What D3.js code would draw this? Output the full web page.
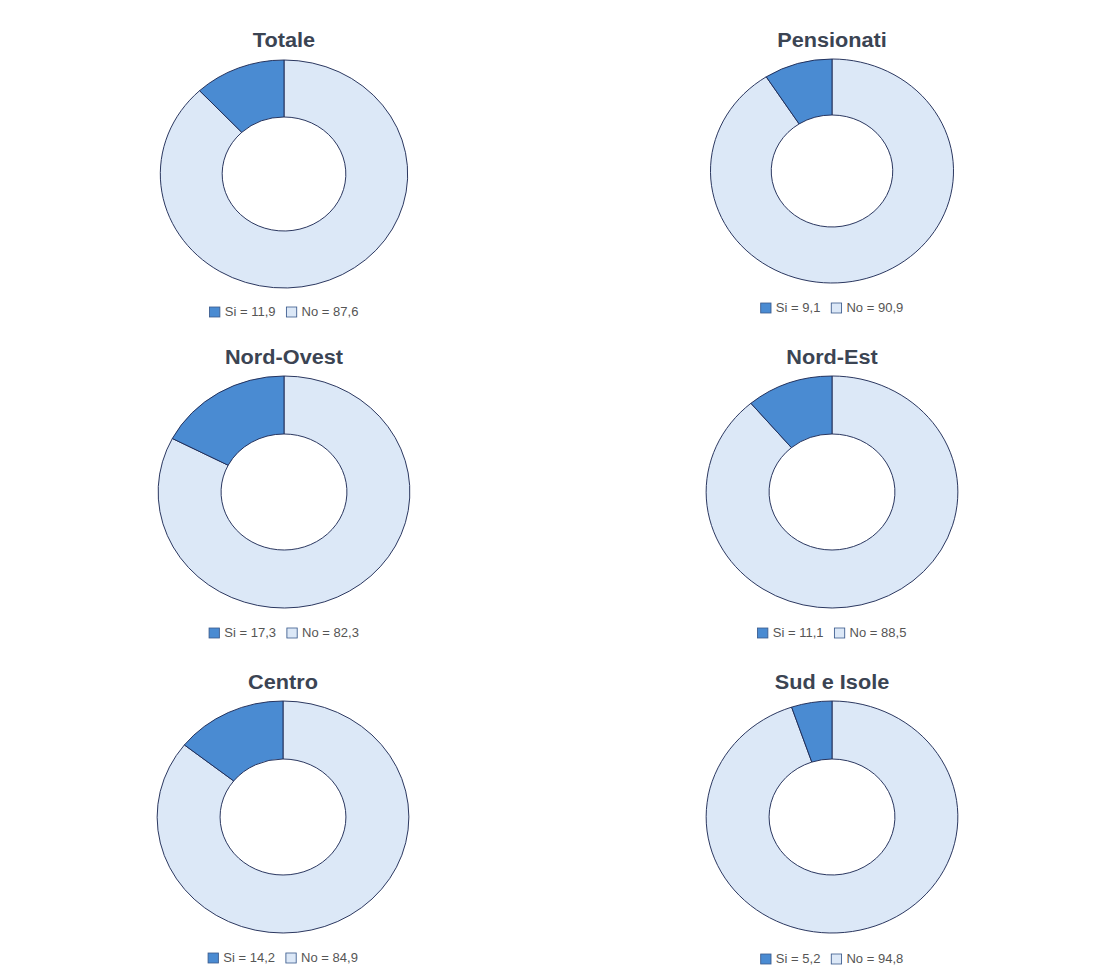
<!DOCTYPE html>
<html>
<head>
<meta charset="utf-8">
<script src="https://cdnjs.cloudflare.com/ajax/libs/d3/7.8.5/d3.min.js"></script>
<style>
  body { margin: 0; background: #fff; }
  svg { display: block; }
</style>
</head>
<body>
<div id="chart"></div>
<script>
// data
var regions = ["Totale", "Pensionati", "Nord-Ovest", "Nord-Est", "Centro", "Sud e Isole"];
var siValues = [11.9, 9.1, 17.3, 11.1, 14.2, 5.2];
var noValues = [87.6, 90.9, 82.3, 88.5, 84.9, 94.8];
var seriesLabels = ["Si", "No"];

// layout of each panel (page coords)
var panelX = [284, 832, 284, 832, 283, 832];
var panelY = [174, 171, 492, 492, 817, 817];
var panelR = [114, 112, 116, 116, 116, 116];
var titleY = [40, 40, 357, 357, 682, 682];
var legendY = [312, 308, 633, 633, 958, 959];

var width = 1095, height = 979;
var stretch = 1.085; // the original figure is a bit wider than tall

var colSi = "#4a8bd2", colNo = "#dce8f7", edge = "#1e2b55";

var svg = d3.select("#chart").append("svg")
    .attr("width", width)
    .attr("height", height);

var pie = d3.pie()
    .sort(null)
    .value(function (d) { return d.value; });

var fmt = function (v) { return String(v).replace(".", ","); };

regions.forEach(function (name, i) {
    var slices = [
        { key: "No", value: noValues[i], color: colNo },
        { key: "Si", value: siValues[i], color: colSi }
    ];

    var arc = d3.arc()
        .innerRadius(panelR[i] * 0.5)
        .outerRadius(panelR[i]);

    // donut, stretched horizontally
    var g = svg.append("g")
        .attr("transform", "translate(" + panelX[i] + "," + panelY[i] + ") scale(" + stretch + ",1)");

    g.selectAll("path")
        .data(pie(slices))
        .enter()
        .append("path")
        .attr("d", arc)
        .attr("fill", function (d) { return d.data.color; })
        .attr("stroke", edge)
        .attr("stroke-width", 0.9);

    // title
    svg.append("g")
        .attr("transform", "translate(" + panelX[i] + "," + titleY[i] + ") scale(" + stretch + ",1)")
        .append("text")
        .attr("text-anchor", "middle")
        .attr("dy", "0.36em")
        .style("font-family", "'Liberation Sans', Arial, sans-serif")
        .style("font-weight", "bold")
        .style("font-size", "20px")
        .style("fill", "#3b4453")
        .text(name);

    // legend
    var lg = svg.append("g")
        .attr("transform", "translate(" + panelX[i] + "," + legendY[i] + ") scale(" + stretch + ",1)");

    var items = lg.selectAll(".item")
        .data([
            { label: seriesLabels[0] + " = " + fmt(siValues[i]), color: colSi },
            { label: seriesLabels[1] + " = " + fmt(noValues[i]), color: colNo }
        ])
        .enter()
        .append("g")
        .attr("class", "item");

    items.append("rect")
        .attr("width", 9.5)
        .attr("height", 10)
        .attr("y", -5)
        .attr("fill", function (d) { return d.color; })
        .attr("stroke", "#3a5a8c")
        .attr("stroke-width", 0.8);

    items.append("text")
        .attr("x", 14)
        .attr("dy", "0.35em")
        .style("font-family", "'Liberation Sans', Arial, sans-serif")
        .style("font-size", "12px")
        .style("fill", "#555")
        .text(function (d) { return d.label; });

    // place items side by side and centre the row
    var xPos = 0;
    items.each(function () {
        var node = d3.select(this);
        node.attr("transform", "translate(" + xPos + ",0)");
        xPos += this.getBBox().width + 10;
    });
    var total = xPos - 10;
    items.attr("transform", function () {
        var t = d3.select(this).attr("transform");
        var x0 = +t.match(/translate\(([-\d.]+)/)[1];
        return "translate(" + (x0 - total / 2) + ",0)";
    });
});
</script>
</body>
</html>
